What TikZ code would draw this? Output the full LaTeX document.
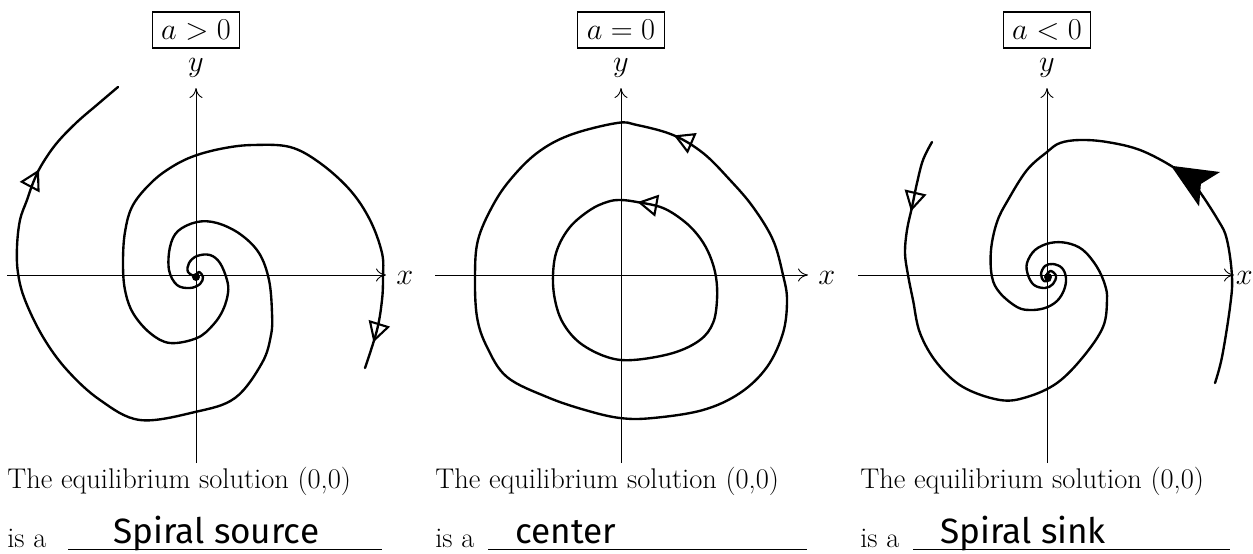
\documentclass[tikz,border=0pt]{standalone}
\usepackage{fontspec}
\newfontfamily\maofont{Fira Sans}
\usetikzlibrary{arrows.meta,decorations.markings}

\begin{document}
\begin{tikzpicture}[x=0.2mm, y=-0.2mm,
  eixo/.style={line width=0.5pt, -{To[length=2mm,width=2.6mm]}},
  traj/.style={line width=1.35pt, line join=round, line cap=round},
  rotulo/.style={draw, line width=0.6pt, minimum width=17.4mm, minimum height=7.2mm,
                 inner sep=0pt, font=\fontsize{16.2}{19}\selectfont},
  letra/.style={inner sep=0pt, font=\fontsize{16.2}{19}\selectfont},
  texto/.style={anchor=base west, inner sep=0pt, font=\fontsize{16.2}{19}\selectfont},
  resposta/.style={anchor=base west, inner sep=0pt, font=\maofont\fontsize{20}{23}\selectfont},
  pontaaberta/.style={postaction={decorate}, decoration={markings,
      mark=at position #1 with {\arrow[line width=1.2pt]{Triangle[open,length=4mm,width=4.4mm]}}}},
  pontacheia/.style={postaction={decorate}, decoration={markings,
      mark=at position #1 with {\arrow{Stealth[length=9mm,width=8mm,inset=2mm]}}}}
]
\useasboundingbox (0,0) rectangle (1253,553);
\clip (0,0) rectangle (1253,553);

\foreach \cx/\xa/\xb/\rot/\n in {196/7/386/{a>0}/1, 621/435/808/{a=0}/2, 1047/858/1234/{a<0}/3} {
  \draw[eixo] (\cx,463) -- (\cx,88);
  \draw[eixo] (\xa,275) -- (\xb,275);
  \node[rotulo] (caixa\n) at (\cx,30) {$\rot$};
  \node[letra] (y\n) at (\cx,68) {$y$};
}
\node[letra, anchor=west] (x1) at (396,278) {$x$};
\node[letra, anchor=west] (x2) at (818,278) {$x$};
\node[letra, anchor=east] (x3) at (1253,278) {$x$};

\foreach \tx/\ua/\ub/\n in {7/68/382/1, 435/488/807/2, 860/913/1230/3} {
  \node[texto] (eq\n) at (\tx,488) {The equilibrium solution (0,0)};
  \node[texto] (isa\n) at (\tx,547) {is a};
  \draw[line width=0.5pt] (\ua,549) -- (\ub,549);
}
\node[resposta] (resp1) at (113,543) {Spiral source};
\node[resposta] (resp2) at (515,543) {center};
\node[resposta] (resp3) at (940,543) {Spiral sink};

% a > 0
\fill (196,277) circle[radius=0.8mm];
\draw[traj, pontaaberta=-23mm] plot[smooth, tension=0.6] coordinates {
  (196,276) (199,272) (203,277) (200,284) (190,288) (177,285) (169,270) (170,247)
  (178,231) (197,222) (217,223) (240,234) (259,253) (269,280) (272,313) (271,335)
  (262,363) (235,398) (195,412) (140,420) (100,400) (67,370) (43,337) (25,300)
  (18,273) (17,247) (20,220) (27,200) (33,183) (41,166) (56,144) (76,123) (98,104) (118,87)};
\draw[traj, pontaaberta=-5.4mm] plot[smooth, tension=0.6] coordinates {
  (196,277) (188,272) (189,263) (197,256) (210,255) (220,263) (227,280) (228,293)
  (223,310) (213,325) (197,338) (170,343) (150,333) (133,313) (125,290) (123,263)
  (125,232) (133,205) (153,181) (175,165) (197,155) (225,148) (253,145) (290,147)
  (320,163) (350,190) (370,220) (382,253) (383,277) (382,300) (377,330) (365,368)};

% a = 0
\draw[traj, pontaaberta=0.999] plot[smooth cycle, tension=0.6] coordinates {
  (703,153) (673,135) (637,125) (617,123) (570,135) (537,153) (510,180) (492,207)
  (478,240) (475,275) (477,317) (487,347) (507,377) (547,397) (585,410) (620,418)
  (653,418) (703,410) (740,393) (767,367) (783,333) (787,300) (783,275) (773,240)
  (753,207) (730,180)};
\draw[traj, pontaaberta=0.999] plot[smooth cycle, tension=0.6] coordinates {
  (663,208) (637,202) (620,200) (607,202) (590,210) (570,227) (557,250) (553,275)
  (555,300) (563,323) (580,343) (607,357) (633,360) (673,353) (700,340) (713,323)
  (717,300) (716,277) (710,256) (700,238) (685,222)};

% a < 0
\fill (1048,277) circle[radius=0.8mm];
\draw[traj, pontaaberta=14.6mm] plot[smooth, tension=0.6] coordinates {
  (932,142) (923,160) (917,183) (912,207) (907,230) (905,253) (908,275) (913,300)
  (920,333) (937,363) (963,387) (1000,400) (1027,397) (1057,383) (1083,357) (1103,327)
  (1107,300) (1105,285) (1097,267) (1083,250) (1067,243) (1050,243) (1035,250) (1027,263)
  (1028,275) (1034,285) (1045,288) (1053,284) (1056,276) (1051,271) (1047,274)};
\draw[traj, pontacheia=48mm] plot[smooth, tension=0.6] coordinates {
  (1215,383) (1222,357) (1230,307) (1232,277) (1227,240) (1218,220) (1193,183) (1173,167)
  (1140,150) (1107,142) (1080,140) (1060,143) (1047,152) (1027,170) (1008,200) (997,222)
  (991,250) (992,277) (1000,293) (1017,307) (1030,310) (1045,308) (1057,301) (1064,290)
  (1066,278) (1062,268) (1053,264) (1045,266) (1041,274) (1044,281) (1050,280)};
\end{tikzpicture}
\end{document}
